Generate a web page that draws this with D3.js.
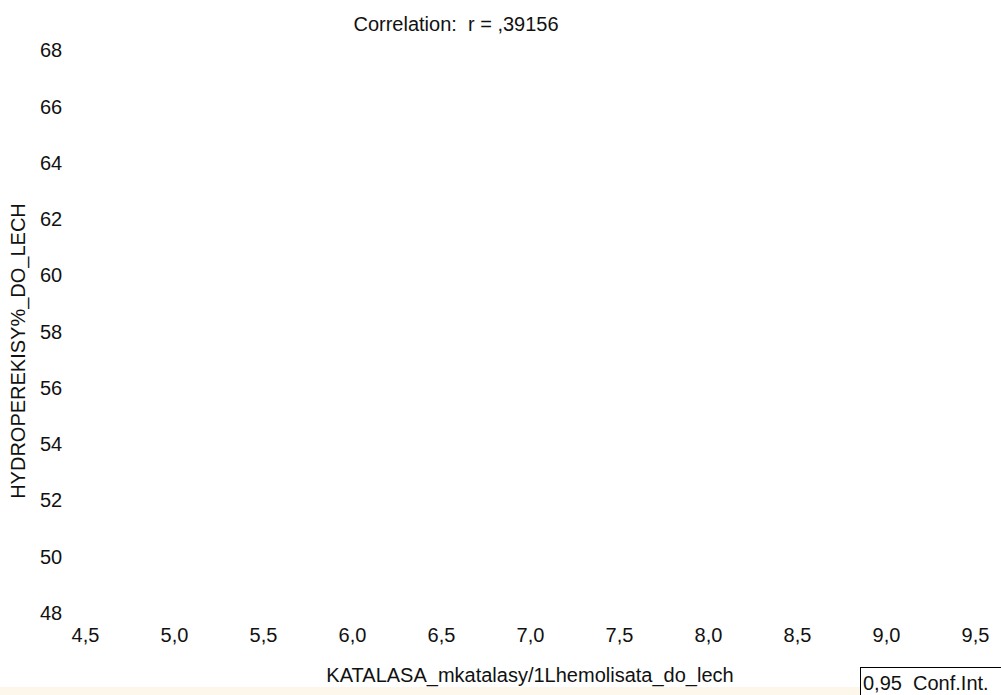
<!DOCTYPE html>
<html>
<head>
<meta charset="utf-8">
<script src="https://cdn.jsdelivr.net/npm/d3@7"></script>
<style>
  html, body { margin: 0; padding: 0; background: #ffffff; }
  svg { display: block; }
  text { font-family: "Liberation Sans", Arial, sans-serif; fill: #111111; }
</style>
</head>
<body>
<div id="chart"></div>
<script>
// ---- data ----
const titleText = "Correlation:  r = ,39156";
const xTitle = "KATALASA_mkatalasy/1Lhemolisata_do_lech";
const yTitle = "HYDROPEREKISY%_DO_LECH";
const xTickValues = [4.5, 5.0, 5.5, 6.0, 6.5, 7.0, 7.5, 8.0, 8.5, 9.0, 9.5];
const xTickLabels = ["4,5", "5,0", "5,5", "6,0", "6,5", "7,0", "7,5", "8,0", "8,5", "9,0", "9,5"];
const yTickValues = [48, 50, 52, 54, 56, 58, 60, 62, 64, 66, 68];
const yTickLabels = ["48", "50", "52", "54", "56", "58", "60", "62", "64", "66", "68"];
const xDomain = [4.5, 9.5];
const yDomain = [48, 68];
const pointsX = [];   // no visible points in the reference
const pointsY = [];
const legendLabel = "0,95  Conf.Int.";

// ---- layout ----
const W = 1001, H = 695;
const FS = "20px";
const svg = d3.select("#chart").append("svg").attr("width", W).attr("height", H);

const x = d3.scaleLinear().domain(xDomain).range([85, 975]);
const y = d3.scaleLinear().domain(yDomain).range([613, 50.5]);

// bottom status strip
svg.append("rect").attr("x", 0).attr("y", 687).attr("width", W).attr("height", 8).attr("fill", "#fdf6ea");

// title
svg.append("text").attr("x", 456).attr("y", 31).attr("text-anchor", "middle")
  .style("font-size", FS).style("white-space", "pre").text(titleText);

// x tick labels
const xAxis = d3.axisBottom(x).tickValues(xTickValues)
  .tickFormat((d, i) => xTickLabels[i]).tickSize(0).tickPadding(0);
const gx = svg.append("g").attr("transform", "translate(0,628)").call(xAxis);
gx.select(".domain").remove();
gx.selectAll("text").attr("dy", "0.71em").attr("y", 0)
  .style("font-size", FS).style("font-family", "'Liberation Sans', Arial, sans-serif").attr("fill", "#111111");

// y tick labels
const yAxis = d3.axisLeft(y).tickValues(yTickValues)
  .tickFormat((d, i) => yTickLabels[i]).tickSize(0).tickPadding(0);
const gy = svg.append("g").attr("transform", "translate(40,0)").call(yAxis);
gy.select(".domain").remove();
gy.selectAll("text").attr("text-anchor", "start").attr("x", 0)
  .style("font-size", FS).style("font-family", "'Liberation Sans', Arial, sans-serif").attr("fill", "#111111");

// points (none in reference)
svg.append("g").selectAll("circle").data(pointsX).join("circle")
  .attr("cx", d => x(d)).attr("cy", (d, i) => y(pointsY[i])).attr("r", 3)
  .attr("fill", "none").attr("stroke", "#0000ff");

// axis titles
svg.append("text").attr("x", 530).attr("y", 682).attr("text-anchor", "middle")
  .style("font-size", FS).text(xTitle);
svg.append("text").attr("transform", "translate(25,351) rotate(-90)").attr("text-anchor", "middle")
  .style("font-size", FS).text(yTitle);

// legend box
svg.append("rect").attr("x", 860.5).attr("y", 667.5).attr("width", 145).attr("height", 40)
  .attr("fill", "#ffffff").attr("stroke", "#000000").attr("stroke-width", 1);
svg.append("text").attr("x", 863).attr("y", 690).style("font-size", FS)
  .style("white-space", "pre").text(legendLabel);
</script>
</body>
</html>
